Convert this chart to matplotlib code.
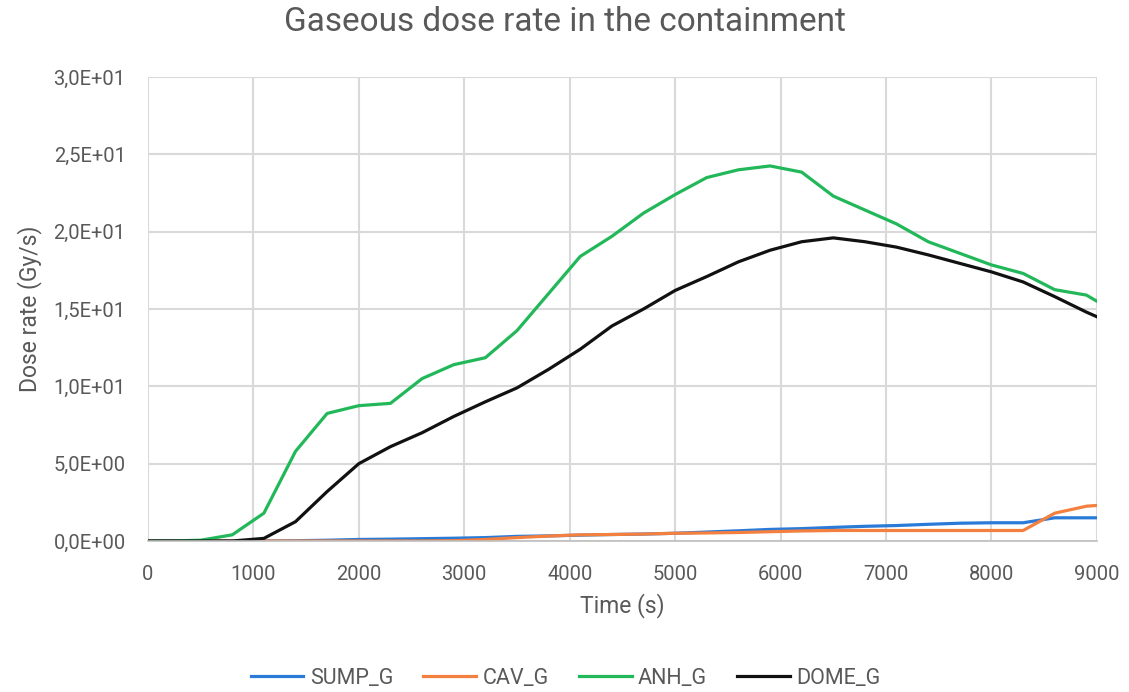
import numpy as np
import matplotlib.pyplot as plt
from matplotlib.ticker import FuncFormatter

# time steps (s)
time = [0, 200, 500, 800, 1100, 1400, 1700, 2000, 2300, 2600, 2900, 3200, 3500,
        3800, 4100, 4400, 4700, 5000, 5300, 5600, 5900, 6200, 6500, 6800, 7100,
        7400, 7700, 8000, 8300, 8600, 8900, 9000]

sump_g = [0, 0, 0, 0, 0, 0.02, 0.05, 0.1, 0.12, 0.15, 0.18, 0.22, 0.3,
          0.33, 0.38, 0.42, 0.45, 0.5, 0.58, 0.66, 0.75, 0.8, 0.88, 0.95, 1.0,
          1.08, 1.15, 1.18, 1.18, 1.5, 1.5, 1.5]
cav_g = [0, 0, 0, 0, 0, 0, 0, 0, 0, 0, 0.02, 0.1, 0.22,
         0.32, 0.4, 0.42, 0.45, 0.5, 0.52, 0.55, 0.6, 0.65, 0.68, 0.68, 0.68,
         0.68, 0.68, 0.68, 0.68, 1.8, 2.25, 2.3]
anh_g = [0, 0, 0.05, 0.4, 1.8, 5.8, 8.25, 8.75, 8.9, 10.5, 11.4, 11.85, 13.6,
         16.0, 18.4, 19.7, 21.2, 22.4, 23.5, 24.0, 24.25, 23.85, 22.3, 21.4, 20.5,
         19.35, 18.6, 17.85, 17.3, 16.25, 15.9, 15.5]
dome_g = [0, 0, 0, 0, 0.17, 1.25, 3.2, 5.0, 6.1, 7.0, 8.05, 9.0, 9.9,
          11.1, 12.4, 13.9, 15.0, 16.2, 17.1, 18.05, 18.8, 19.35, 19.6, 19.35, 19.0,
          18.5, 17.95, 17.4, 16.75, 15.8, 14.8, 14.5]

plt.rcParams['font.family'] = ['Roboto', 'DejaVu Sans']
txt = '#595959'

fig = plt.figure(figsize=(11.29, 6.92), dpi=100)
ax = fig.add_axes([0.131, 0.2182, 0.8406, 0.6705])

ax.plot(time, sump_g, color='#2a7bd8', lw=2.3, label='SUMP_G')
ax.plot(time, cav_g, color='#f4803f', lw=2.3, label='CAV_G')
ax.plot(time, anh_g, color='#22b85a', lw=2.3, label='ANH_G')
ax.plot(time, dome_g, color='#111111', lw=2.3, label='DOME_G')

ax.set_xlim(0, 9000)
ax.set_ylim(0, 30)
ax.set_xticks(np.arange(0, 9001, 1000))
ax.set_yticks(np.arange(0, 30.1, 5))

def sci_comma(v, pos):
    s = '%.1E' % v
    return s.replace('.', ',')

ax.yaxis.set_major_formatter(FuncFormatter(sci_comma))
ax.grid(True, color='#d9d9d9', lw=1.5)
ax.set_axisbelow(True)
for side in ['top', 'right', 'left']:
    ax.spines[side].set_visible(False)
ax.spines['bottom'].set_color('#bfbfbf')
ax.spines['bottom'].set_linewidth(1.2)
ax.tick_params(length=0, labelsize=14.5, labelcolor=txt)
ax.tick_params(axis='y', pad=16)
ax.tick_params(axis='x', pad=17)

ax.set_xlabel('Time (s)', fontsize=16.5, color=txt, labelpad=7)
ax.set_ylabel('Dose rate (Gy/s)', fontsize=16.5, color=txt, labelpad=8)
fig.text(0.5, 0.968, 'Gaseous dose rate in the containment', fontsize=24,
         color=txt, ha='center', va='center')

fig.legend(loc='center', bbox_to_anchor=(0.501, 0.02), ncol=4, frameon=False,
           fontsize=15.5, labelcolor=txt, handlelength=2.45, columnspacing=1.4,
           handletextpad=0.3)

fig.savefig('out.png', dpi=100)
